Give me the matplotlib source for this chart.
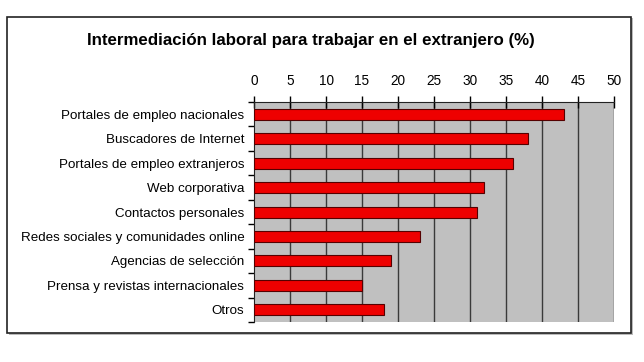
import numpy as np
import matplotlib
matplotlib.use('Agg')
import matplotlib.pyplot as plt
from matplotlib.patches import Rectangle

categorias = ['Portales de empleo nacionales', 'Buscadores de Internet',
              'Portales de empleo extranjeros', 'Web corporativa',
              'Contactos personales', 'Redes sociales y comunidades online',
              'Agencias de selección', 'Prensa y revistas internacionales',
              'Otros']
valores = [43, 38, 36, 32, 31, 23, 19, 15, 18]
ticks_x = [0, 5, 10, 15, 20, 25, 30, 35, 40, 45, 50]

plt.rcParams['font.family'] = ['Liberation Sans', 'DejaVu Sans']

fig = plt.figure(figsize=(6.44, 3.62), dpi=100)

# marco exterior con sombra
fig.patches.append(Rectangle((9 / 644, 1 - 335 / 362), 624 / 644, 317 / 362,
                             transform=fig.transFigure, facecolor='#bbbbbb',
                             edgecolor='none', zorder=-2))
fig.patches.append(Rectangle((7 / 644, 1 - 333 / 362), 624 / 644, 316 / 362,
                             transform=fig.transFigure, facecolor='white',
                             edgecolor='#222222', linewidth=1.2, zorder=-1))

ax = fig.add_axes([254 / 644, 1 - 322 / 362, 360 / 644, 220 / 362])
ax.set_zorder(2)
ax.set_facecolor('#c0c0c0')

y_pos = np.arange(len(categorias))
ax.barh(y_pos, valores, height=0.45, color='#ee0000', edgecolor='#550000',
        linewidth=0.8, zorder=3)

ax.set_xlim(0, 50)
ax.set_ylim(len(categorias) - 0.5, -0.5)
ax.xaxis.tick_top()
ax.set_xticks(ticks_x)
ax.set_xticklabels([str(t) for t in ticks_x], fontsize=9.8)
ax.tick_params(axis='x', direction='inout', length=8, width=1, pad=6)
for x in ticks_x[1:]:
    ax.axvline(x, color='#3a3a3a', linewidth=1, zorder=1)

ax.set_yticks(np.arange(len(categorias) + 1) - 0.5)
ax.set_yticklabels([])
ax.set_yticks(y_pos, minor=True)
ax.set_yticklabels(categorias, minor=True, fontsize=9.6)
ax.tick_params(axis='y', which='major', direction='out', length=4, width=1)
ax.tick_params(axis='y', which='minor', length=0, pad=7)

ax.spines['right'].set_visible(False)
ax.spines['bottom'].set_visible(False)
ax.spines['top'].set_color('#222222')
ax.spines['left'].set_color('#222222')

fig.text(311 / 644, 1 - 40 / 362, 'Intermediación laboral para trabajar en el extranjero (%)',
         ha='center', va='center', fontsize=12.2, fontweight='bold')

fig.savefig('out.png', dpi=100)
